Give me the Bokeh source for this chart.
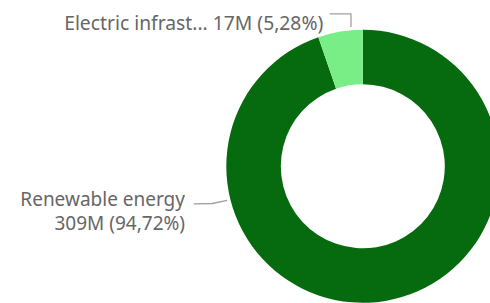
from bokeh.plotting import figure
from bokeh.models import Range1d, ColumnDataSource
from bokeh.core.properties import value
from bokeh.embed import file_html
from bokeh.resources import INLINE
import math

# data
categories = ["Renewable energy", "Electric infrast..."]
values_m = [309, 17]
percents = [94.72, 5.28]
value_labels = ["309M (94,72%)", "17M (5,28%)"]
colors = ["#066A0E", "#7AEE86"]

W, H = 490, 303
p = figure(width=W, height=H, output_backend="svg", toolbar_location=None,
           x_range=Range1d(0, W), y_range=Range1d(0, H),
           min_border=0)
p.axis.visible = False
p.grid.visible = False
p.outline_line_color = None
p.background_fill_color = "white"
p.border_fill_color = "white"

def Y(y):
    return H - y

cx, cy = 362.3, Y(165.8)
r_in, r_out = 82.0, 136.5

total = sum(percents)
start_top = math.pi / 2
a_ren = percents[0] / total * 2 * math.pi
a_el = percents[1] / total * 2 * math.pi
starts = [start_top - a_ren, start_top]
ends = [start_top, start_top + a_el]

src = ColumnDataSource(dict(x=[cx, cx], y=[cy, cy], s=starts, e=ends, c=colors))
p.annular_wedge(x="x", y="y", inner_radius=r_in, outer_radius=r_out,
                start_angle="s", end_angle="e", fill_color="c",
                line_color=None, source=src)

# leader lines
line_col = "#A0A0A0"
p.line([329.3, 350.5, 350.5], [Y(13.3), Y(13.3), Y(26.5)], line_color=line_col, line_width=1.3)
p.line([193.3, 211.7, 226.7], [Y(203.3), Y(203.0), Y(199.8)], line_color=line_col, line_width=1.3)

txt_col = "#666666"
font = value("Noto Sans")
p.text(x=[322.7], y=[Y(21.5)], text=[f"{categories[1]} {value_labels[1]}"],
       text_font=font, text_font_size="19.3px", text_color=txt_col,
       text_align="right", text_baseline="alphabetic")
p.text(x=[184.5, 184.5], y=[Y(198.8), Y(222.0)], text=[categories[0], value_labels[0]],
       text_font=font, text_font_size="19px", text_color=txt_col,
       text_align="right", text_baseline="alphabetic")

open("out.html", "w").write(file_html(p, INLINE))
